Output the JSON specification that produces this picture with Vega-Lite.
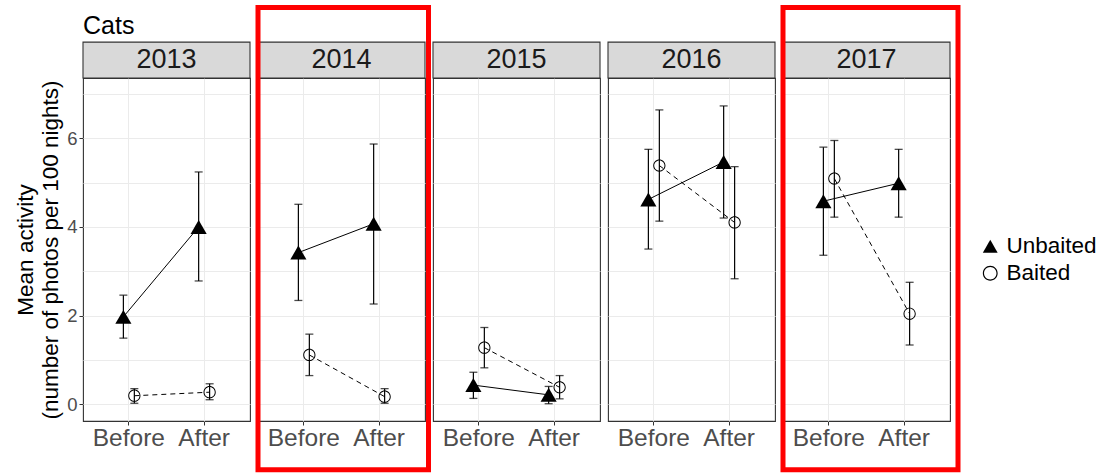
{
  "$schema": "https://vega.github.io/schema/vega-lite/v6.json",
  "background": "white",
  "padding": {"left": 14, "top": 4, "right": 0, "bottom": 0},
  "bounds": "flush",
  "title": {"text": "Cats", "anchor": "start", "frame": "group", "fontSize": 25, "font": "Liberation Sans", "fontWeight": "normal", "color": "black", "baseline": "alphabetic", "offset": -55},
  "data": {"values": [
    {"year": "2013", "period": "Before", "group": "Unbaited", "mean": 1.97, "lo": 1.49, "hi": 2.46},
    {"year": "2013", "period": "After", "group": "Unbaited", "mean": 4.0, "lo": 2.78, "hi": 5.24},
    {"year": "2013", "period": "Before", "group": "Baited", "mean": 0.19, "lo": 0.02, "hi": 0.35},
    {"year": "2013", "period": "After", "group": "Baited", "mean": 0.27, "lo": 0.1, "hi": 0.46},
    {"year": "2014", "period": "Before", "group": "Unbaited", "mean": 3.42, "lo": 2.34, "hi": 4.51},
    {"year": "2014", "period": "After", "group": "Unbaited", "mean": 4.07, "lo": 2.26, "hi": 5.87},
    {"year": "2014", "period": "Before", "group": "Baited", "mean": 1.11, "lo": 0.645, "hi": 1.58},
    {"year": "2014", "period": "After", "group": "Baited", "mean": 0.17, "lo": 0.02, "hi": 0.35},
    {"year": "2015", "period": "Before", "group": "Unbaited", "mean": 0.43, "lo": 0.13, "hi": 0.72},
    {"year": "2015", "period": "After", "group": "Unbaited", "mean": 0.21, "lo": 0.01, "hi": 0.4},
    {"year": "2015", "period": "Before", "group": "Baited", "mean": 1.275, "lo": 0.82, "hi": 1.73},
    {"year": "2015", "period": "After", "group": "Baited", "mean": 0.38, "lo": 0.12, "hi": 0.645},
    {"year": "2016", "period": "Before", "group": "Unbaited", "mean": 4.62, "lo": 3.5, "hi": 5.75},
    {"year": "2016", "period": "After", "group": "Unbaited", "mean": 5.465, "lo": 4.2, "hi": 6.73},
    {"year": "2016", "period": "Before", "group": "Baited", "mean": 5.385, "lo": 4.13, "hi": 6.64},
    {"year": "2016", "period": "After", "group": "Baited", "mean": 4.1, "lo": 2.83, "hi": 5.36},
    {"year": "2017", "period": "Before", "group": "Unbaited", "mean": 4.58, "lo": 3.36, "hi": 5.8},
    {"year": "2017", "period": "After", "group": "Unbaited", "mean": 4.985, "lo": 4.22, "hi": 5.75},
    {"year": "2017", "period": "Before", "group": "Baited", "mean": 5.09, "lo": 4.22, "hi": 5.95},
    {"year": "2017", "period": "After", "group": "Baited", "mean": 2.04, "lo": 1.335, "hi": 2.75}
  ]},
  "facet": {"column": {"field": "year", "type": "nominal", "header": null}},
  "spacing": 8,
  "spec": {
    "width": 167,
    "height": 343,
    "layer": [
      {
        "transform": [{"filter": "datum.group == 'Unbaited' && datum.period == 'Before'"}],
        "mark": {"type": "rect", "fill": "#d9d9d9", "stroke": "#333333", "strokeWidth": 1.1, "clip": false},
        "encoding": {
          "y": {"datum": 8.17, "type": "quantitative", "scale": {"domain": [-0.38, 7.36], "nice": false, "zero": false}, "title": ["Mean activity", "(number of photos per 100 nights)"], "axis": {"grid": true}},
          "y2": {"datum": 7.36}
        }
      },
      {
        "transform": [{"filter": "datum.group == 'Unbaited' && datum.period == 'Before'"}],
        "mark": {"type": "text", "fontSize": 27, "font": "Liberation Sans", "color": "#1a1a1a", "baseline": "middle", "align": "center", "clip": false},
        "encoding": {
          "text": {"field": "year"},
          "y": {"datum": 7.765, "type": "quantitative", "scale": {"domain": [-0.38, 7.36], "nice": false, "zero": false}, "title": ["Mean activity", "(number of photos per 100 nights)"], "axis": {"grid": true}}
        }
      },
      {
        "mark": {"type": "rule", "color": "black", "strokeWidth": 1.2},
        "encoding": {
          "x": {"field": "period", "type": "nominal", "sort": ["Before", "After"], "title": null, "scale": {"type": "band", "paddingInner": 0.7086, "paddingOuter": 0.4636}},
          "xOffset": {"field": "group", "type": "nominal", "sort": ["Unbaited", "Baited"], "scale": {"paddingInner": 0, "paddingOuter": 0}},
          "y": {"field": "lo", "type": "quantitative", "scale": {"domain": [-0.38, 7.36], "nice": false, "zero": false}, "title": ["Mean activity", "(number of photos per 100 nights)"], "axis": {"grid": true}},
          "y2": {"field": "hi"}
        }
      },
      {
        "mark": {"type": "tick", "color": "black", "size": 8, "thickness": 1.3},
        "encoding": {
          "x": {"field": "period", "type": "nominal", "sort": ["Before", "After"], "title": null, "scale": {"type": "band", "paddingInner": 0.7086, "paddingOuter": 0.4636}},
          "xOffset": {"field": "group", "type": "nominal", "sort": ["Unbaited", "Baited"], "scale": {"paddingInner": 0, "paddingOuter": 0}},
          "y": {"field": "lo", "type": "quantitative", "scale": {"domain": [-0.38, 7.36], "nice": false, "zero": false}, "title": ["Mean activity", "(number of photos per 100 nights)"], "axis": {"grid": true}}
        }
      },
      {
        "mark": {"type": "tick", "color": "black", "size": 8, "thickness": 1.3},
        "encoding": {
          "x": {"field": "period", "type": "nominal", "sort": ["Before", "After"], "title": null, "scale": {"type": "band", "paddingInner": 0.7086, "paddingOuter": 0.4636}},
          "xOffset": {"field": "group", "type": "nominal", "sort": ["Unbaited", "Baited"], "scale": {"paddingInner": 0, "paddingOuter": 0}},
          "y": {"field": "hi", "type": "quantitative", "scale": {"domain": [-0.38, 7.36], "nice": false, "zero": false}, "title": ["Mean activity", "(number of photos per 100 nights)"], "axis": {"grid": true}}
        }
      },
      {
        "transform": [{"filter": "datum.group == 'Unbaited'"}],
        "mark": {"type": "line", "color": "black", "strokeWidth": 1},
        "encoding": {
          "x": {"field": "period", "type": "nominal", "sort": ["Before", "After"], "title": null, "scale": {"type": "band", "paddingInner": 0.7086, "paddingOuter": 0.4636}},
          "xOffset": {"field": "group", "type": "nominal", "sort": ["Unbaited", "Baited"], "scale": {"paddingInner": 0, "paddingOuter": 0}},
          "y": {"field": "mean", "type": "quantitative", "scale": {"domain": [-0.38, 7.36], "nice": false, "zero": false}, "title": ["Mean activity", "(number of photos per 100 nights)"], "axis": {"grid": true}}
        }
      },
      {
        "transform": [{"filter": "datum.group == 'Baited'"}],
        "mark": {"type": "line", "color": "black", "strokeWidth": 1, "strokeDash": [5, 4]},
        "encoding": {
          "x": {"field": "period", "type": "nominal", "sort": ["Before", "After"], "title": null, "scale": {"type": "band", "paddingInner": 0.7086, "paddingOuter": 0.4636}},
          "xOffset": {"field": "group", "type": "nominal", "sort": ["Unbaited", "Baited"], "scale": {"paddingInner": 0, "paddingOuter": 0}},
          "y": {"field": "mean", "type": "quantitative", "scale": {"domain": [-0.38, 7.36], "nice": false, "zero": false}, "title": ["Mean activity", "(number of photos per 100 nights)"], "axis": {"grid": true}}
        }
      },
      {
        "transform": [{"filter": "datum.group == 'Unbaited'"}],
        "mark": {"type": "point", "filled": true, "color": "black", "size": 260, "opacity": 1},
        "encoding": {
          "x": {"field": "period", "type": "nominal", "sort": ["Before", "After"], "title": null, "scale": {"type": "band", "paddingInner": 0.7086, "paddingOuter": 0.4636}},
          "xOffset": {"field": "group", "type": "nominal", "sort": ["Unbaited", "Baited"], "scale": {"paddingInner": 0, "paddingOuter": 0}},
          "y": {"field": "mean", "type": "quantitative", "scale": {"domain": [-0.38, 7.36], "nice": false, "zero": false}, "title": ["Mean activity", "(number of photos per 100 nights)"], "axis": {"grid": true}},
          "shape": {"field": "group", "type": "nominal", "scale": {"domain": ["Unbaited", "Baited"], "range": ["triangle-up", "M1,0A1,1 0 1,1 -1,0A1,1 0 1,1 1,0ZM0.84,0A0.84,0.84 0 1,0 -0.84,0A0.84,0.84 0 1,0 0.84,0Z"]}, "legend": {"title": null, "orient": "none", "legendX": 896, "legendY": 157, "labelOffset": 5}}
        }
      },
      {
        "transform": [{"filter": "datum.group == 'Baited'"}],
        "mark": {"type": "point", "filled": true, "color": "black", "size": 150, "opacity": 1},
        "encoding": {
          "x": {"field": "period", "type": "nominal", "sort": ["Before", "After"], "title": null, "scale": {"type": "band", "paddingInner": 0.7086, "paddingOuter": 0.4636}},
          "xOffset": {"field": "group", "type": "nominal", "sort": ["Unbaited", "Baited"], "scale": {"paddingInner": 0, "paddingOuter": 0}},
          "y": {"field": "mean", "type": "quantitative", "scale": {"domain": [-0.38, 7.36], "nice": false, "zero": false}, "title": ["Mean activity", "(number of photos per 100 nights)"], "axis": {"grid": true}},
          "shape": {"field": "group", "type": "nominal", "scale": {"domain": ["Unbaited", "Baited"], "range": ["triangle-up", "M1,0A1,1 0 1,1 -1,0A1,1 0 1,1 1,0ZM0.84,0A0.84,0.84 0 1,0 -0.84,0A0.84,0.84 0 1,0 0.84,0Z"]}, "legend": {"title": null, "orient": "none", "legendX": 896, "legendY": 157, "labelOffset": 5}}
        }
      },
      {
        "transform": [{"filter": "datum.year == '2014' && datum.group == 'Unbaited' && datum.period == 'Before'"}],
        "mark": {"type": "rect", "filled": false, "stroke": "#ff0000", "strokeWidth": 5, "clip": false, "xOffset": 3.5, "x2Offset": -5.5},
        "encoding": {
          "y": {"datum": 8.95, "type": "quantitative", "scale": {"domain": [-0.38, 7.36], "nice": false, "zero": false}, "title": ["Mean activity", "(number of photos per 100 nights)"], "axis": {"grid": true}},
          "y2": {"datum": -1.48}
        }
      },
      {
        "transform": [{"filter": "datum.year == '2017' && datum.group == 'Unbaited' && datum.period == 'Before'"}],
        "mark": {"type": "rect", "filled": false, "stroke": "#ff0000", "strokeWidth": 5, "clip": false, "xOffset": 8, "x2Offset": 1.5},
        "encoding": {
          "y": {"datum": 8.95, "type": "quantitative", "scale": {"domain": [-0.38, 7.36], "nice": false, "zero": false}, "title": ["Mean activity", "(number of photos per 100 nights)"], "axis": {"grid": true}},
          "y2": {"datum": -1.48}
        }
      }
    ]
  },
  "config": {
    "font": "Liberation Sans",
    "view": {"stroke": "#333333", "strokeWidth": 1.1},
    "axis": {"domain": false, "labelFont": "Liberation Sans", "titleFont": "Liberation Sans", "gridColor": "#ebebeb", "gridWidth": 1, "tickColor": "#333333", "tickSize": 4},
    "axisX": {"grid": true, "bandPosition": 0.5, "labelAngle": 0, "labelFontSize": 24.5, "labelColor": "#4d4d4d", "labelPadding": 1},
    "axisY": {"grid": true, "values": [0, 1, 2, 3, 4, 5, 6, 7], "labelExpr": "datum.value % 2 == 0 ? datum.label : ''", "tickColor": {"condition": {"test": "datum.value % 2 == 1", "value": "transparent"}, "value": "#333333"}, "labelFontSize": 18.5, "labelColor": "#4d4d4d", "labelPadding": 2, "titleFontSize": 22.5, "titleFontWeight": "normal", "titleColor": "black", "titleLineHeight": 25.5, "titlePadding": 4},
    "legend": {"labelFontSize": 22.5, "labelFont": "Liberation Sans", "labelColor": "black", "symbolSize": 220, "symbolStrokeWidth": 0, "labelOffset": 5, "rowPadding": 4}
  }
}
